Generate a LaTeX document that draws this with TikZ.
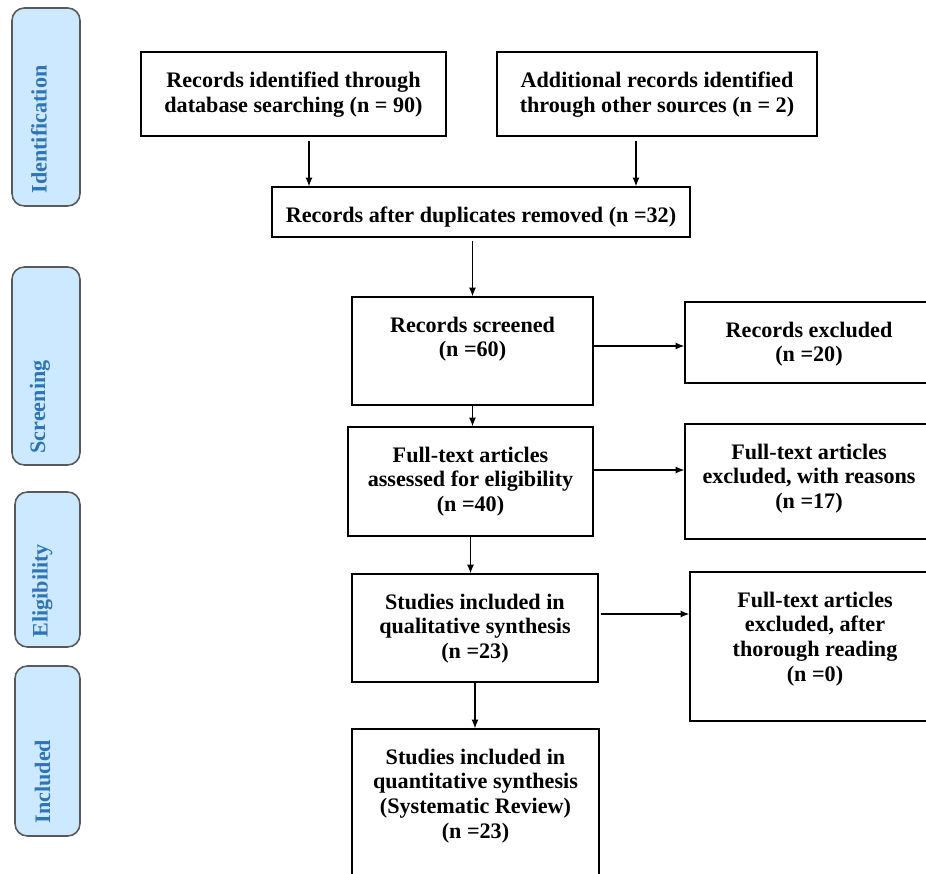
\documentclass[tikz,border=0pt]{standalone}
\usepackage{fontspec}
\setmainfont{Liberation Serif}
\usetikzlibrary{arrows.meta}
\definecolor{stagefill}{HTML}{CDE9FF}
\definecolor{stageline}{HTML}{595959}
\definecolor{stageink}{HTML}{2F74B5}

\begin{document}
\begin{tikzpicture}[
  x=0.02cm,
  y=-0.02cm,
  every node/.style={font=\fontsize{12.6}{14.2}\selectfont\bfseries},
  box/.style 2 args={draw, line width=0.8pt, inner sep=0pt,
    minimum width=#1*0.02cm, minimum height=#2*0.02cm},
  boxtext/.style={anchor=north, align=center, inner sep=0pt, yshift=-0.4cm},
  stage/.style 2 args={draw=stageline, fill=stagefill, line width=0.9pt,
    rounded corners=7pt, minimum width=#1*0.02cm, minimum height=#2*0.02cm},
  stagetext/.style={stageink, rotate=90, anchor=west, inner sep=0pt},
  arr/.style={-{Latex[length=5pt,width=4pt]}, line width=0.6pt}
]
  \useasboundingbox (0,0) rectangle (926,874);
  \clip (0,0) rectangle (926,874);

  % stages on the left
  \node[stage={68}{198}] (ident) at (46,107) {};
  \node[stage={68}{198}] (screen) at (46,366) {};
  \node[stage={65}{155}] (elig) at (47.5,569.5) {};
  \node[stage={65}{170}] (incl) at (47.5,751) {};

  \node[stagetext] (identtxt) at ([xshift=-0.14cm, yshift=0.26cm]ident.south) {Identification};
  \node[stagetext] (screentxt) at ([xshift=-0.12cm, yshift=0.24cm]screen.south) {Screening};
  \node[stagetext] (eligtxt) at ([xshift=-0.1cm, yshift=0.2cm]elig.south) {Eligibility};
  \node[stagetext] (incltxt) at ([xshift=-0.1cm, yshift=0.26cm]incl.south) {Included};

  % boxes
  \node[box={305}{84}, label={[boxtext]north:{Records identified through\\database searching (n = 90)}}]
    (db) at (293.5,94) {};
  \node[box={320}{84}, label={[boxtext]north:{Additional records identified\\through other sources (n = 2)}}]
    (other) at (657,94) {};
  \node[box={418}{50}, label={[boxtext]north:{Records after duplicates removed (n =32)}}]
    (dup) at (481,212) {};
  \node[box={241}{108}, label={[boxtext]north:{Records screened\\(n =60)}}]
    (screened) at (472.5,351) {};
  \node[box={248}{81}, label={[boxtext]north:{Records excluded\\(n =20)}}]
    (recexcl) at (809,342.5) {};
  \node[box={245}{109}, label={[boxtext]north:{Full-text articles\\assessed for eligibility\\(n =40)}}]
    (fulltext) at (470.5,481.5) {};
  \node[box={248}{115}, label={[boxtext]north:{Full-text articles\\excluded, with reasons\\(n =17)}}]
    (ftexcl) at (809,481.5) {};
  \node[box={246}{108}, label={[boxtext]north:{Studies included in\\qualitative synthesis\\(n =23)}}]
    (qual) at (475,628) {};
  \node[box={250}{149}, label={[boxtext]north:{Full-text articles\\excluded, after\\thorough reading\\(n =0)}}]
    (ftread) at (815,646.5) {};
  \node[box={247}{160}, label={[boxtext]north:{Studies included in\\quantitative synthesis\\(Systematic Review)\\(n =23)}}]
    (quant) at (475.5,809) {};

  % arrows
  \draw[arr, shorten <=0.08cm] ([xshift=0.31cm]db.south) -- ([xshift=0.31cm]db.south |- dup.north);
  \draw[arr, shorten <=0.08cm] ([xshift=-0.42cm]other.south) -- ([xshift=-0.42cm]other.south |- dup.north);
  \draw[arr, shorten <=0.06cm] (screened.north |- dup.south) -- (screened.north);
  \draw[arr] ([yshift=0.1cm]screened.east) -- ([yshift=0.1cm]screened.east -| recexcl.west);
  \draw[arr] (screened.south) -- (screened.south |- fulltext.north);
  \draw[arr] ([yshift=0.23cm]fulltext.east) -- ([yshift=0.23cm]fulltext.east -| ftexcl.west);
  \draw[arr] (fulltext.south) -- (fulltext.south |- qual.north);
  \draw[arr, shorten <=0.04cm] ([yshift=0.28cm]qual.east) -- ([yshift=0.28cm]qual.east -| ftread.west);
  \draw[arr] (qual.south) -- (qual.south |- quant.north);
\end{tikzpicture}
\end{document}
